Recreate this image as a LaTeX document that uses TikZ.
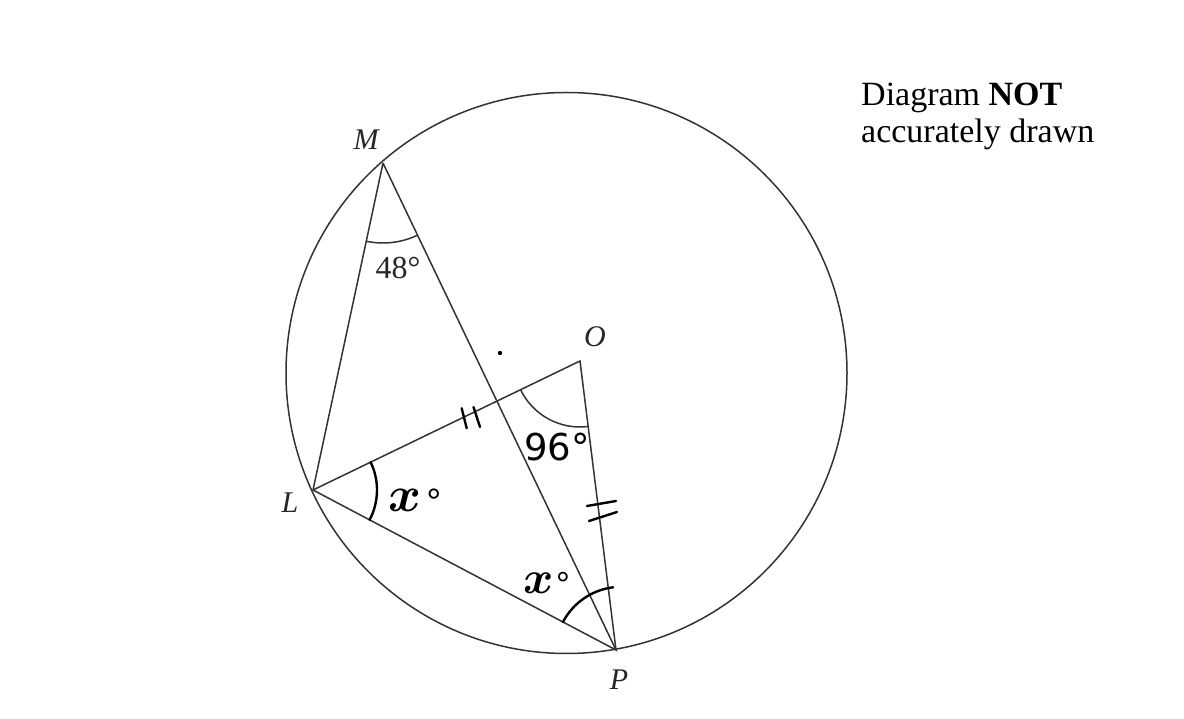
\documentclass[tikz,border=0pt]{standalone}
\usepackage{fix-cm}
\usepackage{bm}
\usepackage{fontspec}
\setmainfont{Liberation Serif}
\newfontfamily\handfont{DejaVu Sans}
\begin{document}
\begin{tikzpicture}[x=1pt,y=1pt,
  geo/.style={line width=1.5pt, draw=black!80},
  hand/.style={line width=2.4pt, draw=black, line cap=round},
  lbl/.style={font=\fontsize{30}{36}\selectfont\itshape, text=black!85, inner sep=0pt},
  ang/.style={font=\fontsize{32}{38}\selectfont, text=black!85, inner sep=0pt},
  htxt/.style={font=\handfont\fontsize{37}{44}\selectfont, inner sep=0pt},
  hx/.style={inner sep=0pt}]
\useasboundingbox (0,0) rectangle (1184,718);
\fill[white] (0,0) rectangle (1184,718);
\coordinate (C) at (566.5,345);
\coordinate (M) at (383,555);
\coordinate (O) at (580,357);
\coordinate (L) at (313,228);
\coordinate (P) at (616,68);
% circle and lines
\draw[geo] (C) circle[radius=280.5];
\draw[geo] (M) -- (L) -- (P) -- (M);
\draw[geo] (L) -- (O) -- (P);
% angle arcs
\draw[geo] (M) ++(257.9:80) arc[start angle=257.9, end angle=295.6, radius=80];
\draw[geo] (O) ++(205.8:66) arc[start angle=205.8, end angle=277.1, radius=66];
\draw[hand] (L) ++(25.8:64) arc[start angle=25.8, end angle=-27.8, radius=64];
\draw[hand] (P) ++(152.2:60) arc[start angle=152.2, end angle=97.1, radius=66];
% tick marks
\draw[hand] (461.7,309.7) -- (466.7,289.7);
\draw[hand] (473.5,311) -- (480,291);
\draw[hand] (587,212) -- (616,217);
\draw[hand] (589,197) -- (617,206);
% dot
\fill[black] (500,365) circle[radius=2.2];
% labels
\node[lbl] (lM) at (366,578) {M};
\node[lbl] (lO) at (595,381) {O};
\node[lbl] (lL) at (290,215) {L};
\node[lbl] (lP) at (619,38) {P};
\node[ang] (a48) at (398,450) {48°};
\node[htxt] (a96) at (557,271) {96°};
\node[hx, anchor=base west] (xL) at (388,206) {\fontsize{50}{56}\selectfont$\bm{x}$\hspace{6pt}\fontsize{34}{40}\selectfont\bfseries °};
\node[hx, anchor=base west] (xP) at (523,124) {\fontsize{46}{52}\selectfont$\bm{x}$\hspace{3pt}\fontsize{32}{38}\selectfont\bfseries °};
\node[anchor=base west, align=left, inner sep=0pt, font=\fontsize{34}{37}\selectfont] (note) at (861,575) {Diagram \textbf{NOT}\\accurately drawn};
\end{tikzpicture}
\end{document}
